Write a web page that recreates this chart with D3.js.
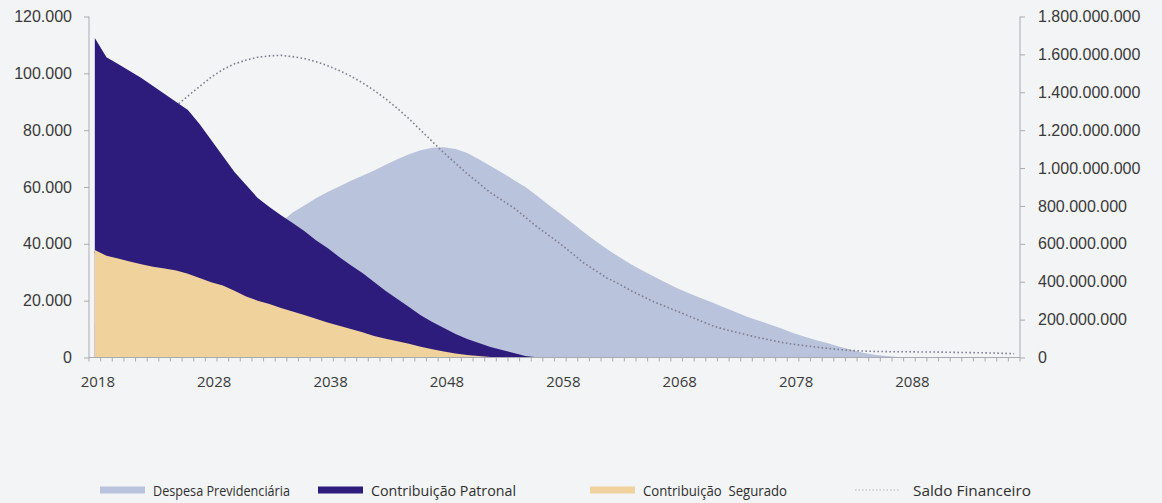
<!DOCTYPE html>
<html>
<head>
<meta charset="utf-8">
<script src="https://cdn.jsdelivr.net/npm/d3@7"></script>
<style>
  body { margin: 0; background: #f3f4f6; }
  svg { display: block; font-family: "Open Sans", sans-serif; }
  .axis text { fill: #3a3a3a; }
</style>
</head>
<body>
<svg id="chart" width="1162" height="503"></svg>
<script>
// categories (years) and series
var years = d3.range(2018, 2098);

var despesa = [12000, 14200, 16400, 18600, 20800, 23000, 25200, 27400, 29600, 31800,
  34000, 36200, 38400, 40600, 42800, 45100, 47600, 51000, 53500, 56000,
  58200, 60200, 62200, 64000, 65800, 67800, 69800, 71500, 72900, 73800,
  74000, 73400, 72000, 69800, 67400, 65000, 62500, 60000, 56900, 53700,
  50600, 47400, 44200, 41100, 38200, 35500, 33000, 30700, 28600, 26500,
  24500, 22700, 21000, 19400, 17800, 16100, 14400, 13000, 11600, 10200,
  8600, 7300, 6100, 5000, 3800, 2700, 1700, 1000, 500, 200,
  100, 60, 30, 20, 10, 10, 0, 0, 0, 0];

var patronal = [112400, 105700, 103300, 100800, 98400, 95500, 92700, 89900, 87100, 82200,
  76500, 70900, 65300, 60700, 56100, 53000, 50100, 47300, 44500, 41300,
  38500, 35400, 32500, 29700, 26600, 23400, 20600, 17800, 14900, 12500,
  10400, 8300, 6500, 5100, 3700, 2600, 1600, 500, 100, 0,
  0, 0, 0, 0, 0, 0, 0, 0, 0, 0,
  0, 0, 0, 0, 0, 0, 0, 0, 0, 0,
  0, 0, 0, 0, 0, 0, 0, 0, 0, 0,
  0, 0, 0, 0, 0, 0, 0, 0, 0, 0];

var segurado = [37800, 35800, 34800, 33800, 32800, 31900, 31300, 30600, 29500, 28000,
  26500, 25300, 23500, 21500, 20000, 18800, 17400, 16200, 15000, 13600,
  12300, 11200, 10000, 8900, 7600, 6600, 5700, 4800, 3800, 2900,
  2100, 1400, 900, 500, 200, 50, 0, 0, 0, 0,
  0, 0, 0, 0, 0, 0, 0, 0, 0, 0,
  0, 0, 0, 0, 0, 0, 0, 0, 0, 0,
  0, 0, 0, 0, 0, 0, 0, 0, 0, 0,
  0, 0, 0, 0, 0, 0, 0, 0, 0, 0];

// saldo financeiro, in billions (right axis)
var saldo = [0.55, 0.68, 0.80, 0.92, 1.03, 1.14, 1.24, 1.33, 1.38, 1.43,
  1.48, 1.52, 1.55, 1.57, 1.585, 1.592, 1.595, 1.588, 1.578, 1.562,
  1.54, 1.515, 1.485, 1.45, 1.41, 1.365, 1.315, 1.26, 1.20, 1.14,
  1.08, 1.025, 0.97, 0.92, 0.87, 0.83, 0.79, 0.74, 0.69, 0.645,
  0.60, 0.55, 0.50, 0.46, 0.42, 0.39, 0.355, 0.325, 0.295, 0.27,
  0.245, 0.22, 0.195, 0.17, 0.15, 0.135, 0.12, 0.105, 0.093, 0.08,
  0.07, 0.062, 0.055, 0.048, 0.042, 0.037, 0.034, 0.032, 0.031, 0.030,
  0.030, 0.029, 0.029, 0.028, 0.027, 0.026, 0.025, 0.024, 0.022, 0.020];

var leftTicks = [0, 20000, 40000, 60000, 80000, 100000, 120000];
var rightTicks = [0, 2e8, 4e8, 6e8, 8e8, 1e9, 1.2e9, 1.4e9, 1.6e9, 1.8e9];
var labelYears = [2018, 2028, 2038, 2048, 2058, 2068, 2078, 2088];
var seriesNames = ["Despesa Previdenciária", "Contribuição Patronal", "Contribuição  Segurado", "Saldo Financeiro"];

var colors = {despesa: "#bac3dc", patronal: "#2e1c7c", segurado: "#efd29c", saldo: "#7d8090"};

var svg = d3.select("#chart");
var ptBR = d3.formatLocale({decimal: ",", thousands: ".", grouping: [3], currency: ["R$", ""]});
var fmt = ptBR.format(",.0f");

var plotLeft = 89, plotRight = 1020, plotTop = 16.5, plotBottom = 357.5;

var x = d3.scaleLinear().domain([2017.5, 2097.5]).range([plotLeft, plotRight]);
var yL = d3.scaleLinear().domain([0, 120000]).range([plotBottom, plotTop]);
var yR = d3.scaleLinear().domain([0, 1.8e9]).range([plotBottom, plotTop]);

var rows = years.map(function(yr, i){
  return {year: yr, despesa: despesa[i], patronal: patronal[i], segurado: segurado[i], saldo: saldo[i] * 1e9};
});

function areaFor(key){
  return d3.area()
    .x(function(d){ return x(d.year); })
    .y0(yL(0))
    .y1(function(d){ return yL(d[key]); });
}

function drawArea(k){
  svg.append("path")
    .datum(rows)
    .attr("fill", colors[k])
    .attr("d", areaFor(k));
}

drawArea("despesa");

// saldo dotted line (grey dots vanish on the dark area, so draw it under the contributions)
svg.append("path")
  .datum(rows)
  .attr("fill", "none")
  .attr("stroke", colors.saldo)
  .attr("stroke-width", 1.6)
  .attr("stroke-dasharray", "1.6 2.4")
  .attr("d", d3.line()
    .x(function(d){ return x(d.year); })
    .y(function(d){ return yR(d.saldo); }));

drawArea("patronal");
drawArea("segurado");

// x axis: tick on every category boundary, labels every 10 years
var xAx = svg.append("g").attr("class", "axis").attr("transform", "translate(0," + plotBottom + ")");
xAx.append("line").attr("x1", plotLeft).attr("x2", plotRight).attr("stroke", "#a9abb0");
xAx.selectAll(".tk").data(d3.range(2017.5, 2098.5, 1)).enter().append("line")
  .attr("class", "tk")
  .attr("x1", function(d){ return x(d); }).attr("x2", function(d){ return x(d); })
  .attr("y1", 0).attr("y2", 4).attr("stroke", "#a9abb0");
xAx.selectAll(".lbl").data(labelYears).enter().append("text")
  .attr("class", "lbl")
  .attr("x", function(d){ return x(d) + 3; })
  .attr("y", 29)
  .attr("text-anchor", "middle")
  .style("font-size", "15px")
  .text(function(d){ return d; });

// left axis
var lAx = svg.append("g").attr("class", "axis").attr("transform", "translate(" + plotLeft + ",0)")
  .call(d3.axisLeft(yL).tickValues(leftTicks).tickSize(5).tickPadding(12).tickFormat(fmt));
lAx.selectAll("text").style("font-size", "16px");
lAx.selectAll("line, path").attr("stroke", "#a9abb0");
lAx.select(".domain").attr("d", "M0," + plotTop + "V" + plotBottom);

// right axis
var rAx = svg.append("g").attr("class", "axis").attr("transform", "translate(" + plotRight + ",0)")
  .call(d3.axisRight(yR).tickValues(rightTicks).tickSize(5).tickPadding(13).tickFormat(fmt));
rAx.selectAll("text").style("font-size", "16px");
rAx.selectAll("line, path").attr("stroke", "#a9abb0");
rAx.select(".domain").attr("d", "M0," + plotTop + "V" + plotBottom);

// legend
var legendX = [100, 318, 590, 855];
var legendW = [137, 145, 144, 118];
var legend = svg.append("g").attr("class", "legend").attr("transform", "translate(0,490)");
seriesNames.forEach(function(name, i){
  var g = legend.append("g").attr("transform", "translate(" + legendX[i] + ",0)");
  if (i < 3) {
    g.append("rect").attr("x", 0).attr("y", -3.5).attr("width", 45).attr("height", 7)
      .attr("fill", [colors.despesa, colors.patronal, colors.segurado][i]);
  } else {
    g.append("line").attr("x1", 0).attr("x2", 45).attr("y1", 0).attr("y2", 0)
      .attr("stroke", "#b5b8c2").attr("stroke-width", 1.2).attr("stroke-dasharray", "1.5 2");
  }
  g.append("text")
    .attr("x", i < 3 ? 53 : 58)
    .attr("y", 5.5)
    .attr("fill", "#2f2f2f")
    .style("font-size", i < 3 ? "15px" : "14px")
    .attr("textLength", legendW[i])
    .attr("lengthAdjust", "spacingAndGlyphs")
    .style("white-space", "pre")
    .text(name);
});
</script>
</body>
</html>
